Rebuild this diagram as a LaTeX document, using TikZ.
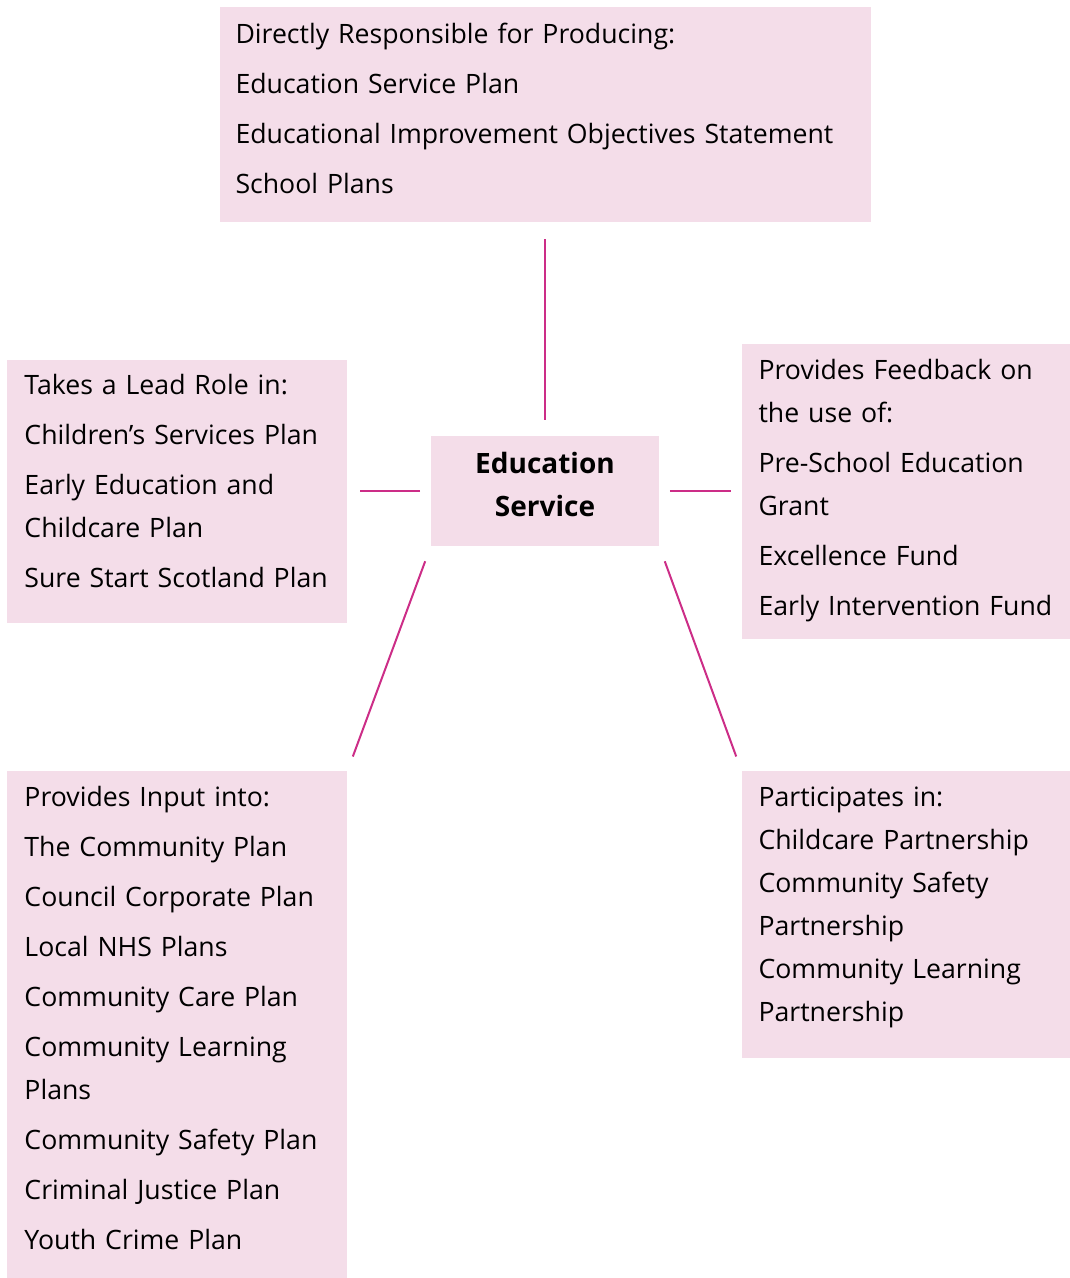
\documentclass[tikz,border=0pt]{standalone}
\usepackage{fontspec}
\setmainfont{Open Sans}
\definecolor{planpink}{RGB}{244, 221, 233}
\definecolor{linkmagenta}{RGB}{204, 45, 135}
\usetikzlibrary{positioning}

\tikzset{
	plan/.style = {fill = planpink, inner ysep = 0pt, inner xsep = 12.75pt, align = left,
		font = \fontsize{20}{32.25}\selectfont},
	link/.style = {draw = linkmagenta, line width = 1.5pt}
}

\begin{document}
\begin{tikzpicture}[x = 0.75pt, y = 0.75pt]
	\useasboundingbox (0, 0) rectangle (1070, -1278);

	\node[plan, align = center, inner xsep = 12pt, text width = 147pt, text height = 27.75pt, text depth = 54.75pt,
		font = \fontsize{21}{32.25}\selectfont\bfseries] (edu) at (545, -491) {Education\\Service};
	\node[plan, inner xsep = 12pt, text width = 464.25pt, text height = 27pt, text depth = 134.25pt,
		above = 159.75pt of edu] (resp) {Directly Responsible for Producing:\\[5.25pt]
		Education Service Plan\\[5.25pt]
		Educational Improvement Objectives Statement\\[5.25pt]
		School Plans};
	\node[plan, text width = 229.5pt, text height = 26.25pt, text depth = 171pt,
		left = 62.25pt of edu] (lead) {Takes a Lead Role in:\\[5.25pt]
		Children’s Services Plan\\[5.25pt]
		Early Education and\\
		Childcare Plan\\[5.25pt]
		Sure Start Scotland Plan};
	\node[plan, text width = 221.25pt, text height = 27pt, text depth = 194.25pt,
		right = 61.5pt of edu] (feed) {Provides Feedback on\\
		the use of:\\[5.25pt]
		Pre-School Education\\
		Grant\\[5.25pt]
		Excellence Fund\\[5.25pt]
		Early Intervention Fund};
	\node[plan, text width = 229.5pt, text height = 27pt, text depth = 353.25pt,
		below left = 168pt and 62.25pt of edu] (input) {Provides Input into:\\[5.25pt]
		The Community Plan\\[5.25pt]
		Council Corporate Plan\\[5.25pt]
		Local NHS Plans\\[5.25pt]
		Community Care Plan\\[5.25pt]
		Community Learning\\
		Plans\\[5.25pt]
		Community Safety Plan\\[5.25pt]
		Criminal Justice Plan\\[5.25pt]
		Youth Crime Plan};
	\node[plan, text width = 221.25pt, text height = 27pt, text depth = 188.25pt,
		below right = 168pt and 61.5pt of edu] (part) {Participates in:\\
		Childcare Partnership\\
		Community Safety\\
		Partnership\\
		Community Learning\\
		Partnership};

	\draw[link]
		(edu) edge[shorten <= 12pt, shorten >= 12pt] (resp)
		(edu) edge[shorten <= 8pt, shorten >= 9pt] (lead)
		(edu) edge[shorten <= 8pt, shorten >= 7.5pt] (feed)
		(edu.south west) edge[shorten <= 12pt, shorten >= 11pt] (input.north east)
		(edu.south east) edge[shorten <= 12pt, shorten >= 11pt] (part.north west);
\end{tikzpicture}
\end{document}
